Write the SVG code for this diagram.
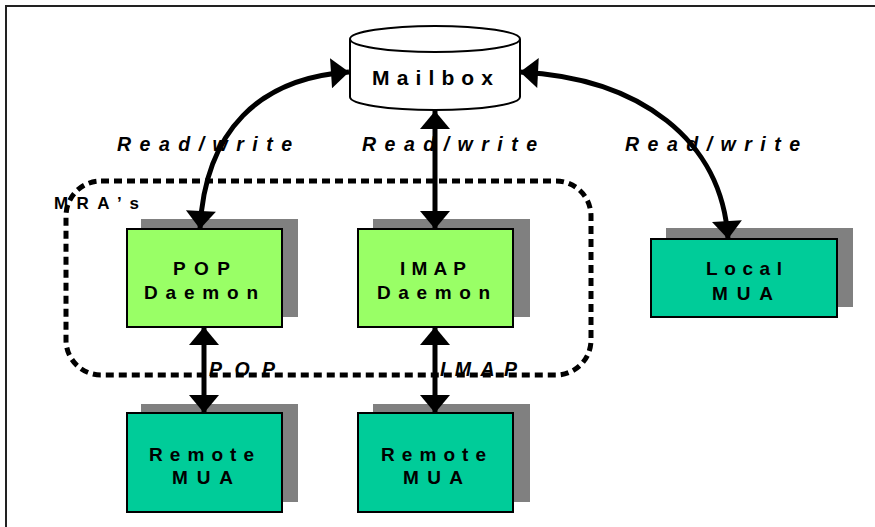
<svg xmlns="http://www.w3.org/2000/svg" width="875" height="527" viewBox="0 0 875 527">
<style>
.t{font-family:"Liberation Sans",Arial,sans-serif;font-weight:bold;fill:#000}
.box{stroke:#000;stroke-width:2}
.shadow{fill:#808080}
.conn{fill:none;stroke:#000;stroke-width:5}
.lbl{font-style:italic;font-size:19.5px}
.nt{font-size:19px}
</style>
<defs>
<marker id="ah" markerUnits="userSpaceOnUse" markerWidth="30" markerHeight="30" viewBox="0 0 18 30" refX="18" refY="15" orient="auto-start-reverse">
<path d="M0,0 L18,15 L0,30 Z" fill="#000"/>
</marker>
</defs>
<rect width="875" height="527" fill="#fff"/>
<path d="M6,527 L6,6 L875,6" fill="none" stroke="#222" stroke-width="2"/>

<rect x="66" y="181" width="525" height="194" rx="35" fill="none" stroke="#000" stroke-width="5" stroke-dasharray="8 5"/>
<text class="t" x="54" y="209" font-size="17" textLength="85" lengthAdjust="spacing">MRA’s</text>

<g id="mailbox">
<path d="M350,39 L350,97 A85,13 0 0 0 520,97 L520,39" fill="#fff" stroke="#000" stroke-width="2"/>
<ellipse cx="435" cy="39" rx="85" ry="13" fill="#fff" stroke="#000" stroke-width="2"/>
<text class="t" x="432.5" y="84.5" font-size="21" text-anchor="middle" textLength="121" lengthAdjust="spacing">Mailbox</text>
</g>

<g id="pop">
<rect class="shadow" x="141" y="219" width="157" height="98"/>
<rect class="box" x="127" y="229" width="155" height="98" fill="#99FF66"/>
<text class="t nt" x="201.5" y="275" text-anchor="middle" textLength="57" lengthAdjust="spacing">POP</text>
<text class="t nt" x="201" y="299" text-anchor="middle" textLength="114" lengthAdjust="spacing">Daemon</text>
</g>

<g id="imap">
<rect class="shadow" x="373" y="219" width="157" height="98"/>
<rect class="box" x="358" y="229" width="155" height="98" fill="#99FF66"/>
<text class="t nt" x="433" y="275" text-anchor="middle" textLength="66" lengthAdjust="spacing">IMAP</text>
<text class="t nt" x="433.5" y="299" text-anchor="middle" textLength="113" lengthAdjust="spacing">Daemon</text>
</g>

<g id="local">
<rect class="shadow" x="666" y="228" width="187" height="79"/>
<rect class="box" x="651" y="239" width="186" height="78" fill="#00CC99"/>
<text class="t nt" x="744" y="275" text-anchor="middle" textLength="76" lengthAdjust="spacing">Local</text>
<text class="t nt" x="742.5" y="300" text-anchor="middle" textLength="61" lengthAdjust="spacing">MUA</text>
</g>

<g id="remote1">
<rect class="shadow" x="141" y="404" width="157" height="98"/>
<rect class="box" x="127" y="413" width="155" height="99" fill="#00CC99"/>
<text class="t nt" x="201.5" y="461" text-anchor="middle" textLength="105" lengthAdjust="spacing">Remote</text>
<text class="t nt" x="202.5" y="484" text-anchor="middle" textLength="61" lengthAdjust="spacing">MUA</text>
</g>

<g id="remote2">
<rect class="shadow" x="373" y="404" width="157" height="98"/>
<rect class="box" x="358" y="413" width="155" height="99" fill="#00CC99"/>
<text class="t nt" x="433.5" y="461" text-anchor="middle" textLength="105" lengthAdjust="spacing">Remote</text>
<text class="t nt" x="433" y="484" text-anchor="middle" textLength="60" lengthAdjust="spacing">MUA</text>
</g>

<g id="connectors">
<path class="conn" d="M349,72 C260,78 205,130 200,229" marker-start="url(#ah)" marker-end="url(#ah)"/>
<path class="conn" d="M435,111 L435,229" marker-start="url(#ah)" marker-end="url(#ah)"/>
<path class="conn" d="M520,72 C640,78 722,140 728,239" marker-start="url(#ah)" marker-end="url(#ah)"/>
<path class="conn" d="M204,327 L204,413" marker-start="url(#ah)" marker-end="url(#ah)"/>
<path class="conn" d="M435,327 L435,413" marker-start="url(#ah)" marker-end="url(#ah)"/>
</g>

<text class="t lbl" x="117" y="151" textLength="175" lengthAdjust="spacing">Read/write</text>
<text class="t lbl" x="362" y="151" textLength="175" lengthAdjust="spacing">Read/write</text>
<text class="t lbl" x="625" y="151" textLength="175" lengthAdjust="spacing">Read/write</text>
<text class="t lbl" x="209" y="376" textLength="66" lengthAdjust="spacing">POP</text>
<text class="t lbl" x="440" y="376" textLength="77" lengthAdjust="spacing">IMAP</text>
</svg>
